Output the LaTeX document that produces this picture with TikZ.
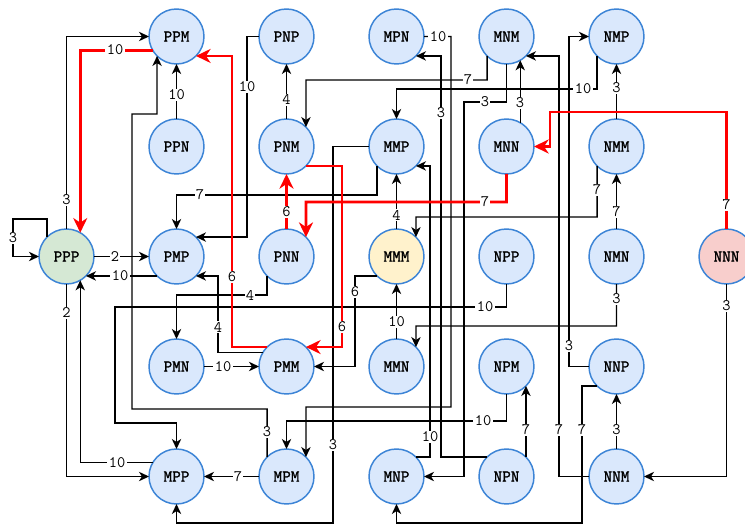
\documentclass[tikz,border=0pt]{standalone}
\usepackage{fontspec}
\newfontfamily\nodefont{Latin Modern Mono}[FakeBold=1.6]
\usetikzlibrary{arrows.meta}
\definecolor{nodeblue}{RGB}{60,132,214}
\definecolor{fillblue}{HTML}{DAE8FC}
\definecolor{fillgreen}{HTML}{D5E8D4}
\definecolor{fillyellow}{HTML}{FFF2CC}
\definecolor{fillred}{HTML}{F8CECC}
\begin{document}
\begin{tikzpicture}[x=0.75pt,y=-0.75pt,
  st/.style={circle, draw=nodeblue, line width=1.1pt, fill=fillblue, minimum size=41.25pt,
    inner sep=0pt, outer sep=0pt, font=\nodefont\fontsize{12.5}{12.5}\selectfont},
  e/.style={line width=1.05pt, -{Stealth[length=7.5pt,width=7pt,inset=2.2pt]}},
  re/.style={draw=red, line width=2pt, -{Stealth[length=11pt,width=10.5pt,inset=3.5pt]}},
  lbl/.style={fill=white, inner sep=1pt, font=\ttfamily\fontsize{12}{12}\selectfont}]
\useasboundingbox (0,0) rectangle (745,527);
\fill[white] (0,0) rectangle (745,527);
% nodes
\node[st] (PPM) at (176.5,36.5) {PPM};
\node[st] (PNP) at (286.5,36.5) {PNP};
\node[st] (MPN) at (396.5,36.5) {MPN};
\node[st] (MNM) at (506.5,36.5) {MNM};
\node[st] (NMP) at (616.5,36.5) {NMP};
\node[st] (PPN) at (176.5,146.5) {PPN};
\node[st] (PNM) at (286.5,146.5) {PNM};
\node[st] (MMP) at (396.5,146.5) {MMP};
\node[st] (MNN) at (506.5,146.5) {MNN};
\node[st] (NMM) at (616.5,146.5) {NMM};
\node[st, fill=fillgreen] (PPP) at (66.5,256.5) {PPP};
\node[st] (PMP) at (176.5,256.5) {PMP};
\node[st] (PNN) at (286.5,256.5) {PNN};
\node[st, fill=fillyellow] (MMM) at (396.5,256.5) {MMM};
\node[st] (NPP) at (506.5,256.5) {NPP};
\node[st] (NMN) at (616.5,256.5) {NMN};
\node[st, fill=fillred] (NNN) at (726.5,256.5) {NNN};
\node[st] (PMN) at (176.5,366.5) {PMN};
\node[st] (PMM) at (286.5,366.5) {PMM};
\node[st] (MMN) at (396.5,366.5) {MMN};
\node[st] (NPM) at (506.5,366.5) {NPM};
\node[st] (NNP) at (616.5,366.5) {NNP};
\node[st] (MPP) at (176.5,476.5) {MPP};
\node[st] (MPM) at (286.5,476.5) {MPM};
\node[st] (MNP) at (396.5,476.5) {MNP};
\node[st] (NPN) at (506.5,476.5) {NPN};
\node[st] (NNM) at (616.5,476.5) {NNM};
% black edges
\draw[e] (PPP.135) |- (13,219) |- (PPP.180);
\draw[e] (PPP.90) |- (PPM.180);
\draw[e] (PPN) -- (PPM);
\draw[e] (MPM.135) |- (132,409) |- (157,114) -- (PPM.225);
\draw[e] (PNP.180) -| (247,150) |- (PMP.45);
\draw[e] (PNM) -- (PNP);
\draw[e] (MNM.225) |- (306,80) -- (PNM.45);
\draw[e] (NMP.225) |- (396.5,89) -- (MMP);
\draw[e] (MMP.225) |- (176.5,195) -- (PMP);
\draw[e] (MMP.180) -| (333,300) |- (176.5,523) -- (MPP);
\draw[e] (MMM) -- (MMP);
\draw[e] (NMM.225) |- (416,217) -- (MMM.45);
\draw[e] (NMN) -- (NMM);
\draw[e] (MMM.225) -| (355,300) |- (PMM.0);
\draw[e] (MMN) -- (MMM);
\draw[e] (NPP.270) |- (115,307) |- (176.5,423) -- (MPP);
\draw[e] (PPP) -- (PMP);
\draw[e] (PMP.225) -- (PPP.315);
\draw[e] (PPP.270) |- (MPP.180);
\draw[e] (MPP.150) -| (PPP.300);
\draw[e] (PMM.150) -| (218,300) |- (PMP.315);
\draw[e] (PNN.225) |- (176.5,295) -- (PMN);
\draw[e] (PMN) -- (PMM);
\draw[e] (NMN.270) |- (416,326) -- (MMN.45);
\draw[e] (NNN.270) |- (NNM.0);
\draw[e] (NPM.270) |- (286.5,421) -- (MPM);
\draw[e] (MPN.0) -| (451,200) |- (306,407) -- (MPM.45);
\draw[e] (NPN.135) -| (441,200) |- (MPN.315);
\draw[e] (MNP.45) -| (430,300) |- (MMP.315);
\draw[e] (MNM.270) |- (464,102) |- (MNP.0);
\draw[e] (MNN.60) -- (MNM.300);
\draw[e] (NNM.180) -| (559,200) |- (MNM.315);
\draw[e] (NNP.180) -| (569,200) |- (NMP.180);
\draw[e] (NNP.225) -| (582,450) |- (396.5,523) -- (MNP);
\draw[e] (NNM) -- (NNP);
\draw[e] (NPN.45) -- (NPM.315);
\draw[e] (MPM) -- (MPP);
\draw[e] (NMM) -- (NMP);
% red edges
\draw[re] (PPM.210) -| (PPP.60);
\draw[re] (PMM.135) -| (232,100) |- (PPM.315);
\draw[re] (PNM.315) -| (342,250) |- (PMM.45);
\draw[re] (PNN) -- (PNM);
\draw[re] (MNN.270) |- (306,202) -- (PNN.45);
\draw[re] (NNN.90) |- (550,112) |- (MNN.0);
% labels
\node[lbl] at (13,238) {3};
\node[lbl] at (66.5,200) {3};
\node[lbl] at (115,50) {10};
\node[lbl] at (176.5,95) {10};
\node[lbl] at (267,432) {3};
\node[lbl] at (232,277) {6};
\node[lbl] at (247,87) {10};
\node[lbl] at (286.5,100) {4};
\node[lbl] at (468,80) {7};
\node[lbl] at (583,89) {10};
\node[lbl] at (200,195) {7};
\node[lbl] at (333,445) {3};
\node[lbl] at (342,327) {6};
\node[lbl] at (286.5,212) {6};
\node[lbl] at (485,202) {7};
\node[lbl] at (726.5,205) {7};
\node[lbl] at (396.5,215) {4};
\node[lbl] at (597,190) {7};
\node[lbl] at (616.5,212) {7};
\node[lbl] at (355,292) {6};
\node[lbl] at (396.5,322) {10};
\node[lbl] at (485,307) {10};
\node[lbl] at (115,256.5) {2};
\node[lbl] at (120,276) {10};
\node[lbl] at (66.5,313) {2};
\node[lbl] at (117,463) {10};
\node[lbl] at (218,327) {4};
\node[lbl] at (250,295) {4};
\node[lbl] at (223,366.5) {10};
\node[lbl] at (616.5,299) {3};
\node[lbl] at (726.5,306) {3};
\node[lbl] at (483,421) {10};
\node[lbl] at (438,36.5) {10};
\node[lbl] at (441,113) {3};
\node[lbl] at (430,437) {10};
\node[lbl] at (485,102) {3};
\node[lbl] at (520,103) {3};
\node[lbl] at (559,430) {7};
\node[lbl] at (569,346) {3};
\node[lbl] at (582,430) {7};
\node[lbl] at (616.5,430) {3};
\node[lbl] at (526,430) {7};
\node[lbl] at (238,476.5) {7};
\node[lbl] at (616.5,88) {3};
\end{tikzpicture}
\end{document}
